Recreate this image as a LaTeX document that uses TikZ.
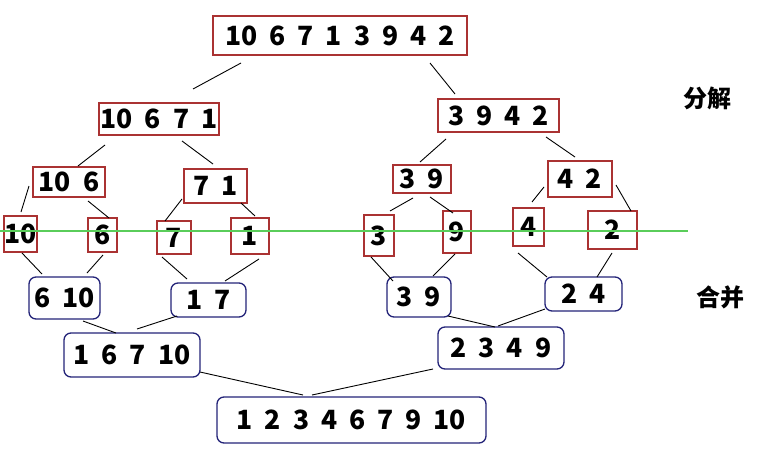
\documentclass[tikz,border=0pt]{standalone}
\usepackage{fontspec}
\setmainfont{Noto Sans CJK SC}
\definecolor{redb}{RGB}{170,50,50}
\definecolor{navyb}{RGB}{35,35,120}
\definecolor{greenl}{RGB}{90,205,90}
\newcommand\widegaps{\spaceskip=12pt\relax}
\begin{document}
\begin{tikzpicture}[x=1pt,y=-1pt,
  num/.style={inner sep=0pt,font=\fontsize{26.5}{30}\selectfont\bfseries,execute at begin node=\widegaps},
  rbox/.style={num,draw=redb,line width=1.1pt},
  bbox/.style={num,draw=navyb,line width=1.3pt,rounded corners=7pt},
  link/.style={black,line width=0.9pt},
  lab/.style={inner sep=0pt,font=\fontsize{24}{27}\selectfont\bfseries}]
\useasboundingbox (0,0) rectangle (762,452);
% split boxes
\node[rbox,minimum width=254pt,minimum height=39pt] (top) at (340,35.5) {10 6 7 1 3 9 4 2};
\node[rbox,minimum width=120pt,minimum height=32pt] (L1) at (159,119) {10 6 7 1};
\node[rbox,minimum width=121pt,minimum height=33pt] (R1) at (498.5,115.5) {3 9 4 2};
\node[rbox,minimum width=72pt,minimum height=30pt] (L2a) at (69,182) {10 6};
\node[rbox,minimum width=63pt,minimum height=34pt] (L2b) at (215.5,186) {7 1};
\node[rbox,minimum width=58pt,minimum height=28pt] (R2a) at (422,179) {3 9};
\node[rbox,minimum width=64pt,minimum height=36pt] (R2b) at (580,179) {4 2};
\node[rbox,minimum width=33pt,minimum height=36pt] (s10) at (20.5,234) {10};
\node[rbox,minimum width=29pt,minimum height=34pt] (s6) at (102.5,235) {6};
\node[rbox,minimum width=34pt,minimum height=33pt] (s7) at (174,237.5) {7};
\node[rbox,minimum width=38pt,minimum height=36pt] (s1) at (250,236) {1};
\node[rbox,minimum width=30pt,minimum height=41pt] (s3) at (379,235.5) {3};
\node[rbox,minimum width=28pt,minimum height=42pt] (s9) at (457,232) {9};
\node[rbox,minimum width=31pt,minimum height=38pt] (s4) at (528.5,227) {4};
\node[rbox,minimum width=49pt,minimum height=38pt] (s2) at (612.5,230) {2};
% merge boxes
\node[bbox,minimum width=71pt,minimum height=42pt] (m610) at (64.5,298) {6 10};
\node[bbox,minimum width=75pt,minimum height=34pt] (m17) at (208.5,300) {1 7};
\node[bbox,minimum width=64pt,minimum height=40pt] (m39) at (419,297) {3 9};
\node[bbox,minimum width=77pt,minimum height=34pt] (m24) at (583.5,294) {2 4};
\node[bbox,minimum width=136pt,minimum height=44pt] (mL) at (132,355) {1 6 7 10};
\node[bbox,minimum width=126pt,minimum height=42pt] (mR) at (501,348) {2 3 4 9};
\node[bbox,minimum width=269pt,minimum height=46pt] (fin) at (351.5,420) {1 2 3 4 6 7 9 10};
% labels
\node[lab] (fenjie) at (707.5,98) {分解};
\node[lab] (hebing) at (720,297) {合并};
% split connectors
\draw[link] ([shift={(-99,27.5)}]top.center) -- ([shift={(34,-30)}]L1.center);
\draw[link] ([shift={(90,27.5)}]top.center) -- ([shift={(-43.5,-21.5)}]R1.center);
\draw[link] ([shift={(-54,26)}]L1.center) -- ([shift={(9,-16)}]L2a.center);
\draw[link] ([shift={(23,22)}]L1.center) -- ([shift={(-2.5,-22)}]L2b.center);
\draw[link] ([shift={(-40,4)}]L2a.center) -- ([shift={(0.5,-22)}]s10.center);
\draw[link] ([shift={(19,19)}]L2a.center) -- ([shift={(6.5,-17)}]s6.center);
\draw[link] ([shift={(-33.5,13)}]L2b.center) -- ([shift={(-9,-16.5)}]s7.center);
\draw[link] ([shift={(25.5,17)}]L2b.center) -- ([shift={(5,-20)}]s1.center);
\draw[link] ([shift={(-52.5,23.5)}]R1.center) -- ([shift={(-2,-17)}]R2a.center);
\draw[link] ([shift={(47.5,21.5)}]R1.center) -- ([shift={(-5,-22)}]R2b.center);
\draw[link] ([shift={(-9,19)}]R2a.center) -- ([shift={(11,-24.5)}]s3.center);
\draw[link] ([shift={(8,18)}]R2a.center) -- ([shift={(-4,-19)}]s9.center);
\draw[link] ([shift={(-36,8)}]R2b.center) -- ([shift={(3.5,-25)}]s4.center);
\draw[link] ([shift={(36,6)}]R2b.center) -- ([shift={(18.5,-19)}]s2.center);
% merge connectors
\draw[link] ([shift={(1.5,19)}]s10.center) -- ([shift={(-22.5,-24)}]m610.center);
\draw[link] ([shift={(0.5,20)}]s6.center) -- ([shift={(22.5,-25)}]m610.center);
\draw[link] ([shift={(-12,19.5)}]s7.center) -- ([shift={(-21.5,-21)}]m17.center);
\draw[link] ([shift={(9,23)}]s1.center) -- ([shift={(16.5,-19)}]m17.center);
\draw[link] ([shift={(-8,21.5)}]s3.center) -- ([shift={(-26,-16)}]m39.center);
\draw[link] ([shift={(-2,22)}]s9.center) -- ([shift={(14,-21)}]m39.center);
\draw[link] ([shift={(-10.5,26)}]s4.center) -- ([shift={(-36.5,-17)}]m24.center);
\draw[link] ([shift={(-0.5,23)}]s2.center) -- ([shift={(13.5,-17)}]m24.center);
\draw[link] ([shift={(18.5,23)}]m610.center) -- ([shift={(-16,-22)}]mL.center);
\draw[link] ([shift={(-31.5,16)}]m17.center) -- ([shift={(5,-26)}]mL.center);
\draw[link] ([shift={(29,19)}]m39.center) -- ([shift={(-6,-21)}]mR.center);
\draw[link] ([shift={(-38.5,15)}]m24.center) -- ([shift={(-3,-22)}]mR.center);
\draw[link] ([shift={(68,17)}]mL.center) -- ([shift={(-48.5,-25)}]fin.center);
\draw[link] ([shift={(-68,21)}]mR.center) -- ([shift={(-39.5,-25)}]fin.center);
% green divider
\draw[greenl,line width=1.2pt] (0,231) -- (688,231);
\end{tikzpicture}
\end{document}
